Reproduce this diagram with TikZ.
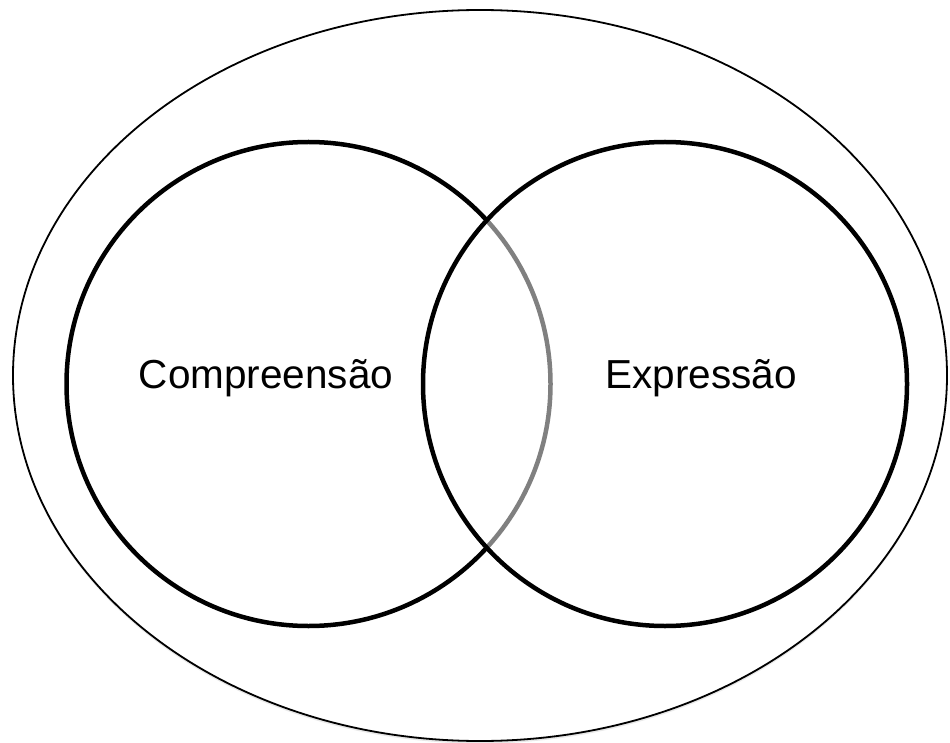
\documentclass[tikz,border=0pt]{standalone}
\usepackage{fontspec}
\setmainfont{Liberation Sans}
\usetikzlibrary{shapes.geometric,shadows}
\begin{document}
\begin{tikzpicture}[x=1pt,y=-1pt,
  outer/.style={ellipse, draw=black, line width=1.8pt, fill=white, inner sep=0pt,
    minimum width=934pt, minimum height=731pt,
    drop shadow={shadow xshift=0pt, shadow yshift=-2.5pt, opacity=0.18}},
  setcircle/.style={circle, draw=black, line width=4.5pt, inner sep=0pt, minimum size=484pt},
  lbl/.style={font=\fontsize{40.5}{48}\selectfont, inner sep=0pt, text=black}]
\useasboundingbox (0,0) rectangle (950,743);
\node[outer] (universe) at (480,375.5) {};
\node[setcircle] (comp) at (308.5,384) {};
\node[setcircle, fill=white, fill opacity=0.5, draw opacity=1] (expr) at (665,384) {};
\node[lbl] (tcomp) at (266,378) {Compreensão};
\node[lbl] (texpr) at (701,378) {Expressão};
\end{tikzpicture}
\end{document}
